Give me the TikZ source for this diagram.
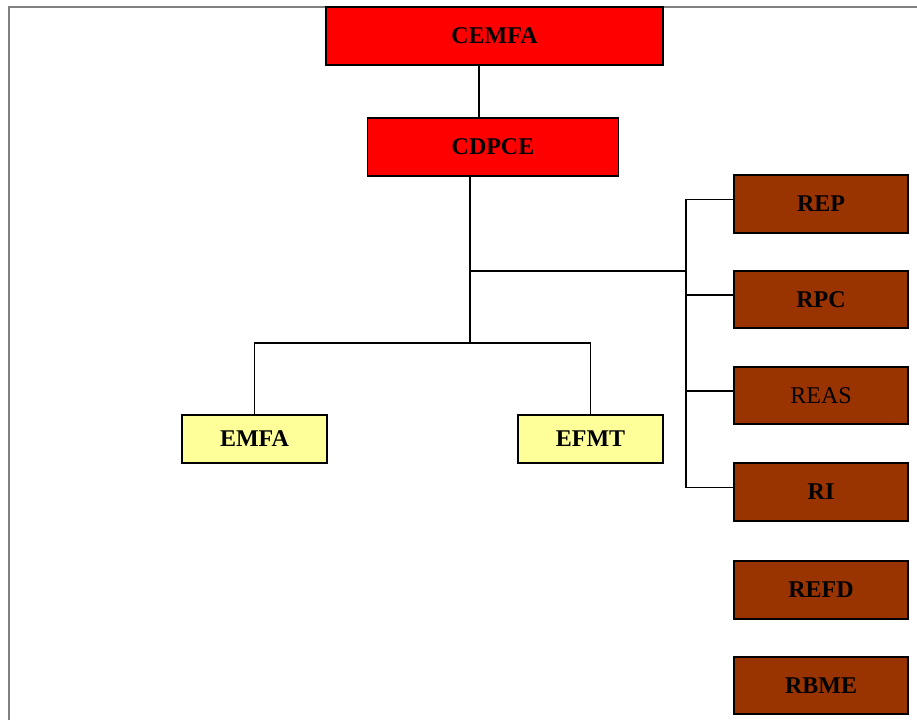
\documentclass[tikz,border=0pt]{standalone}
\usepackage{fontspec}
\setmainfont{Liberation Serif}
\definecolor{topred}{HTML}{FF0000}
\definecolor{unityellow}{HTML}{FFFF99}
\definecolor{regbrown}{HTML}{993300}
\definecolor{framegray}{HTML}{808080}
\begin{document}
\begin{tikzpicture}[x=1pt,y=-1pt,
  box/.style={draw=black, line width=1.6pt, inner sep=0pt, font=\fontsize{24}{28}\selectfont\bfseries},
  redbox/.style={box, fill=topred, minimum height=58pt},
  yellowbox/.style={box, fill=unityellow, minimum width=145pt, minimum height=48pt},
  brownbox/.style={box, fill=regbrown, minimum width=173.5pt, minimum height=57.5pt},
  link/.style={draw=black, line width=1.7pt},
  frameline/.style={draw=framegray, line width=2pt}]
\useasboundingbox (0,0) rectangle (917,720);
% page frame (left and top edges)
\draw[frameline] (8.5,720) -- (8.5,6.5) -- (917,6.5);

% top-level boxes
\node[redbox, minimum width=337pt] (cemfa) at (494.5,36) {CEMFA};
\node[redbox, minimum width=251pt] (cdpce) at (493,147) {CDPCE};

% lower units
\node[yellowbox] (emfa) at (254.5,439) {EMFA};
\node[yellowbox] (efmt) at (590.5,439) {EFMT};

% right column
\node[brownbox] (rep)  at (821,204)   {REP};
\node[brownbox] (rpc)  at (821,299.5) {RPC};
\node[brownbox, font=\fontsize{24}{28}\selectfont\mdseries] (reas) at (821,395.5) {REAS};
\node[brownbox] (ri)   at (821,492)   {RI};
\node[brownbox] (refd) at (821,590)   {REFD};
\node[brownbox] (rbme) at (821,685.5) {RBME};

% junction points
\coordinate (split) at (470,343);
\coordinate (tap) at (470,271);
\coordinate (bus) at (686,271);

% connectors
\draw[link] (cemfa.south -| 479,0) -- (cdpce.north -| 479,0);
\draw[link] (cdpce.south -| split) -- (split);
\draw[link] (emfa.north) |- (split) -| (efmt.north);
\draw[link] (tap) -- (bus);
\draw[link] ([yshift=4.5pt]rep.west) -| ([yshift=4.5pt]ri.west -| bus) -- ([yshift=4.5pt]ri.west);
\draw[link] ([yshift=4.5pt]rpc.west -| bus) -- ([yshift=4.5pt]rpc.west);
\draw[link] ([yshift=4.5pt]reas.west -| bus) -- ([yshift=4.5pt]reas.west);
\end{tikzpicture}
\end{document}
